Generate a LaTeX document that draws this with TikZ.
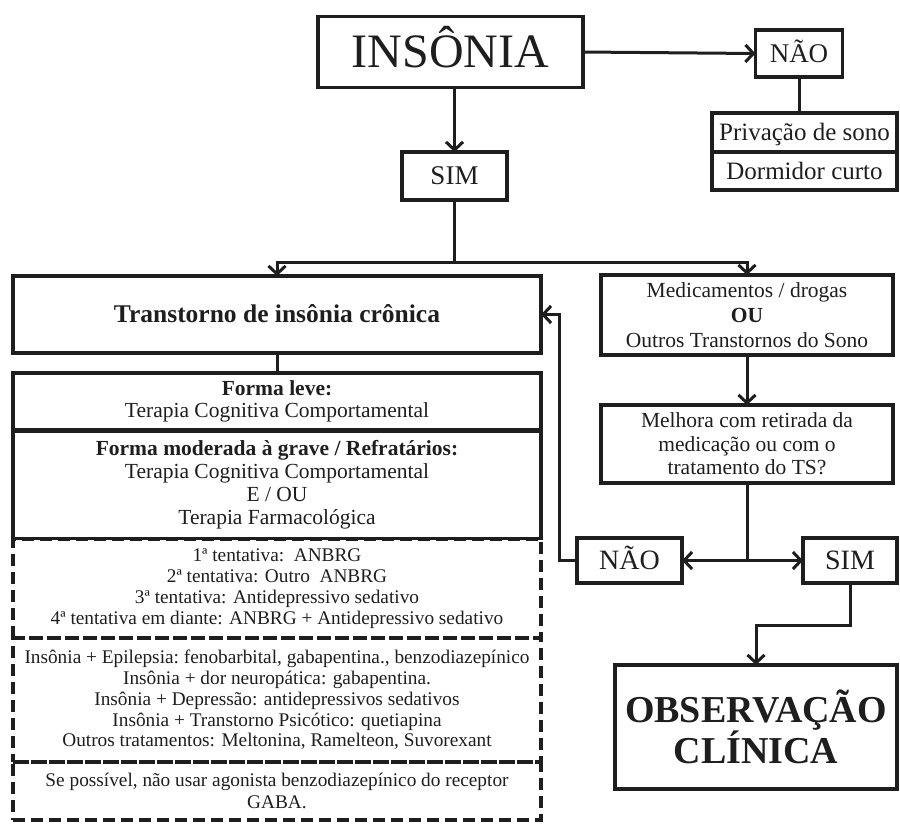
\documentclass[tikz,border=0pt]{standalone}
\usepackage{fontspec}
\setmainfont{Liberation Serif}
\usetikzlibrary{arrows.meta,calc}
\definecolor{ink}{HTML}{1E1E1E}
\newcommand{\fs}[2]{\fontsize{#1}{#2}\selectfont}
\newcommand{\capc}[1]{\vphantom{I}\smash{#1}}
\tikzset{
  box/.style={draw=ink, line width=3.5pt, inner sep=0pt, outer sep=0pt, align=center, text=ink},
  dbox/.style={box, dash pattern=on 12pt off 6pt},
  conn/.style={draw=ink, line width=3pt},
  arr/.style={conn, -{Straight Barb[length=8pt,width=17pt]}},
}
\begin{document}
\begin{tikzpicture}[x=1pt,y=-1pt]
\useasboundingbox (0,0) rectangle (900,823);

% top
\node[box, minimum width=265pt, minimum height=71pt, font=\fs{48}{50}] (insonia) at (450.5,52) {\capc{INSÔNIA}};
\node[box, minimum width=87pt, minimum height=47pt, font=\fs{27}{28}] (nao1) at (799,53.5) {\capc{NÃO}};
\node[box, minimum width=185pt, minimum height=39pt, font=\fs{25}{26}] (priv1) at (804.5,132.5) {\capc{Privação de sono}};
\node[box, minimum width=185pt, minimum height=38pt, font=\fs{25}{26}] (priv2) at (804.5,171) {\capc{Dormidor curto}};
\node[box, minimum width=105pt, minimum height=48pt, font=\fs{27}{29}] (sim1) at (454.5,176) {\capc{SIM}};

% left column
\node[box, minimum width=528pt, minimum height=77pt, font=\bfseries\fs{25.5}{26}] (trans) at (277,314.5) {\capc{Transtorno de insônia crônica}};
\node[box, minimum width=528pt, minimum height=57pt, font=\fs{21.5}{22}] (leve) at (277,401.5) {\textbf{Forma leve:}\\Terapia Cognitiva Comportamental};
\node[box, minimum width=528pt, minimum height=107pt, font=\fs{21.5}{23}] (mod) at (277,485) {\textbf{Forma moderada à grave / Refratários:}\\Terapia Cognitiva Comportamental\\E / OU\\Terapia Farmacológica};
\node[dbox, minimum width=528pt, minimum height=99pt, font=\fs{19.3}{20.8}] (tent) at (277,588.5) {1ª tentativa:\ \ ANBRG\\2ª tentativa: Outro\ \ ANBRG\\3ª tentativa: Antidepressivo sedativo\\4ª tentativa em diante: ANBRG + Antidepressivo sedativo};
\node[dbox, minimum width=528pt, minimum height=124pt, font=\fs{19.3}{20.7}] (comorb) at (277,700) {Insônia + Epilepsia:\ fenobarbital, gabapentina., benzodiazepínico\\Insônia + dor neuropática: gabapentina.\\Insônia + Depressão: antidepressivos sedativos\\Insônia + Transtorno Psicótico: quetiapina\\Outros tratamentos: Meltonina, Ramelteon, Suvorexant};
\node[dbox, minimum width=528pt, minimum height=58pt, font=\fs{19.3}{22}] (gaba) at (277,791) {Se possível, não usar agonista benzodiazepínico do receptor\\GABA.};

% right column
\node[box, minimum width=292pt, minimum height=80pt, font=\fs{21.5}{25}] (med) at (747,315) {Medicamentos / drogas\\\textbf{OU}\\Outros Transtornos do Sono};
\node[box, minimum width=292pt, minimum height=78pt, font=\fs{21.5}{23.5}] (mel) at (747,444) {Melhora com retirada da\\medicação ou com o\\tratamento do TS?};
\node[box, minimum width=105pt, minimum height=45pt, font=\fs{28}{29}] (nao2) at (629.5,560.5) {\capc{NÃO}};
\node[box, minimum width=94pt, minimum height=45pt, font=\fs{28}{29}] (sim2) at (850,560.5) {\capc{SIM}};
\node[box, minimum width=282pt, minimum height=124pt, font=\bfseries\fs{38}{36}] (obs) at (756,727) {OBSERVAÇÃO\\CLÍNICA};

% connectors
\draw[arr] (insonia.east) -- (nao1.west);
\draw[conn] (nao1.south) -- (nao1.south |- priv1.north);
\draw[arr] (insonia.south -| sim1.north) -- (sim1.north);
\coordinate (jn) at ($(sim1.south)+(0,62)$);
\draw[conn] (sim1.south) -- (jn);
\draw[arr] (jn) -| (trans.north);
\draw[arr] (jn) -| (med.north);
\draw[conn] (trans.south) -- (leve.north);
\draw[arr] (med.south) -- (mel.north);
\coordinate (kn) at (mel.south |- nao2.east);
\draw[conn] (mel.south) -- (kn);
\draw[arr] (kn) -- (nao2.east);
\draw[arr] (kn) -- (sim2.west);
\draw[arr] (nao2.west) -- ++(-18,0) |- (trans.east);
\draw[arr] (sim2.south) -- ++(0,42) -| (obs.north);
\end{tikzpicture}
\end{document}
